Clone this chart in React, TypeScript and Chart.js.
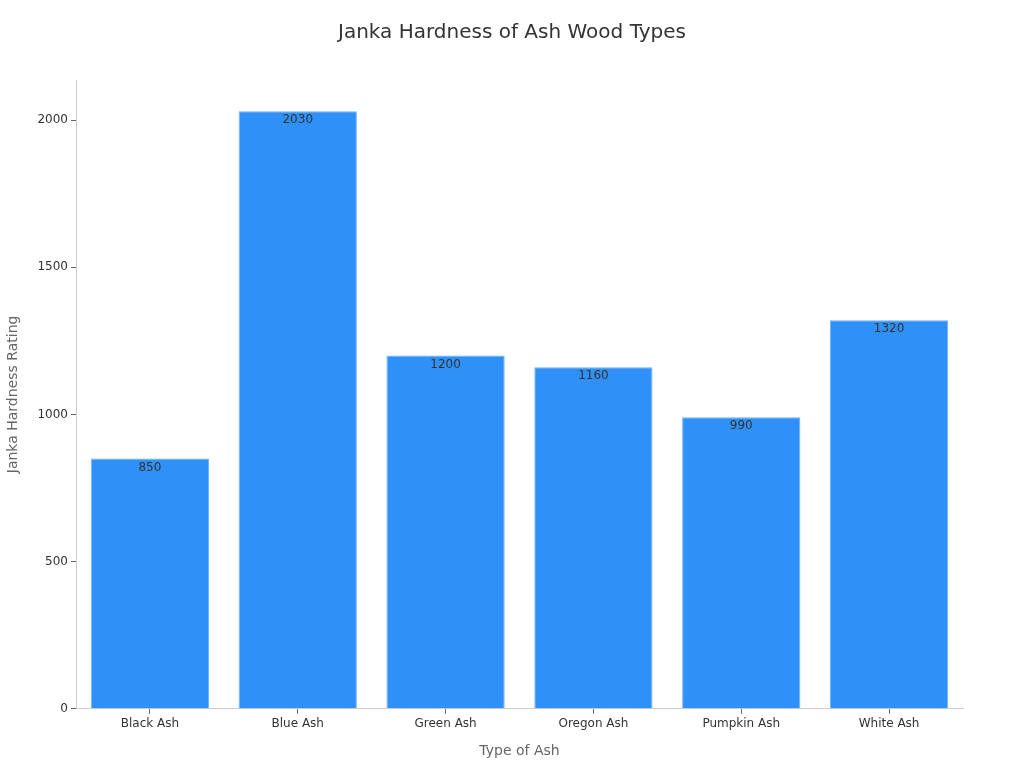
import React, { useEffect, useRef } from "react";
import { Chart, registerables } from "chart.js";

Chart.register(...registerables);

const categories = ["Black Ash", "Blue Ash", "Green Ash", "Oregon Ash", "Pumpkin Ash", "White Ash"];
const hardness = [850, 2030, 1200, 1160, 990, 1320];
const yTicks = [0, 500, 1000, 1500, 2000];
const chartTitle = "Janka Hardness of Ash Wood Types";

const FONT = "'DejaVu Sans', sans-serif";

const valueLabels = {
  id: "valueLabels",
  afterDatasetsDraw(chart: any) {
    const ctx = chart.ctx;
    const meta = chart.getDatasetMeta(0);
    ctx.save();
    ctx.font = `12px ${FONT}`;
    ctx.fillStyle = "#333333";
    ctx.textAlign = "center";
    ctx.textBaseline = "middle";
    meta.data.forEach((bar: any, i: number) => {
      ctx.fillText(String(hardness[i]), bar.x, bar.y + 9);
    });
    ctx.restore();
  },
};

const pageTitle = {
  id: "pageTitle",
  afterDraw(chart: any) {
    const ctx = chart.ctx;
    ctx.save();
    ctx.font = `20px ${FONT}`;
    ctx.fillStyle = "#333333";
    ctx.textAlign = "center";
    ctx.textBaseline = "middle";
    ctx.fillText(chartTitle, chart.width / 2, 33);
    ctx.restore();
  },
};

export default function App() {
  const ref = useRef<HTMLCanvasElement>(null);
  useEffect(() => {
    if (!ref.current) return;
    const chart = new Chart(ref.current, {
      type: "bar",
      data: {
        labels: categories,
        datasets: [
          {
            data: hardness,
            backgroundColor: "#2f90f8",
            borderColor: "#6fb3ff",
            borderWidth: 1,
            barPercentage: 0.8,
            categoryPercentage: 1,
          },
        ],
      },
      plugins: [valueLabels, pageTitle],
      options: {
        animation: false,
        responsive: false,
        maintainAspectRatio: false,
        layout: { padding: { top: 80, right: 61, bottom: 8, left: 0 } },
        plugins: {
          legend: { display: false },
          tooltip: { enabled: false },
          title: { display: false },
        },
        scales: {
          x: {
            grid: {
              display: true,
              offset: false,
              drawOnChartArea: false,
              drawTicks: true,
              tickLength: 5,
              color: "#cccccc",
              tickColor: "#666666",
            },
            border: { display: true, color: "#cccccc" },
            ticks: { color: "#333333", font: { family: FONT, size: 12 }, padding: 3 },
            title: {
              display: true,
              text: "Type of Ash",
              color: "#666666",
              font: { family: FONT, size: 14 },
              padding: { top: 9, bottom: 0 },
            },
          },
          y: {
            min: 0,
            max: 2136,
            afterFit(scale: any) {
              scale.width = 76;
            },
            afterBuildTicks(scale: any) {
              scale.ticks = yTicks.map((v) => ({ value: v }));
            },
            grid: {
              display: true,
              drawOnChartArea: false,
              drawTicks: true,
              tickLength: 5,
              color: "#cccccc",
              tickColor: "#666666",
            },
            border: { display: true, color: "#cccccc" },
            ticks: {
              color: "#333333",
              font: { family: FONT, size: 12 },
              padding: 3,
              callback: (v: any) => String(v),
            },
            title: {
              display: true,
              text: "Janka Hardness Rating",
              color: "#666666",
              font: { family: FONT, size: 14 },
              padding: { top: 5, bottom: 0 },
            },
          },
        },
      } as any,
    });
    return () => chart.destroy();
  }, []);
  return (
    <div style={{ position: "fixed", left: 0, top: 0, width: 1024, height: 768, background: "#fff" }}>
      <canvas ref={ref} width={1024} height={768} style={{ width: 1024, height: 768 }} />
    </div>
  );
}
